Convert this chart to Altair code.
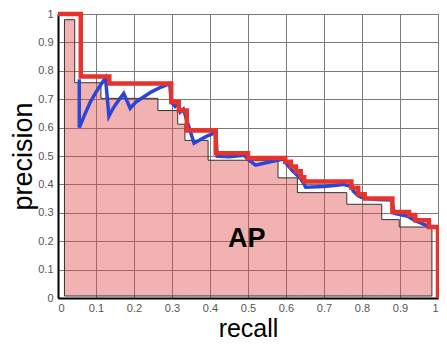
import altair as alt
import pandas as pd

# Black-outlined AP area: step start recall and precision
ap_recall = [0.017, 0.044, 0.113, 0.263, 0.315, 0.334, 0.395, 0.579, 0.630, 0.760, 0.852, 0.898, 0.984]
ap_precision = [0.98, 0.758, 0.703, 0.66, 0.612, 0.555, 0.485, 0.423, 0.371, 0.33, 0.276, 0.25, 0.25]

# Interpolated precision (red step curve)
interp_recall = [0.0, 0.06, 0.135, 0.298, 0.318, 0.339, 0.415, 0.5, 0.598, 0.613, 0.626, 0.639, 0.648,
                 0.772, 0.79, 0.807, 0.88, 0.924, 0.94, 0.976, 1.0, 1.0]
interp_precision = [1.0, 0.78, 0.755, 0.69, 0.66, 0.59, 0.51, 0.493, 0.48, 0.463, 0.446, 0.425, 0.41,
                    0.388, 0.365, 0.35, 0.303, 0.292, 0.274, 0.25, 0.25, 0.0]

# Raw precision (blue sawtooth curve)
raw_recall = [0.056, 0.056, 0.07, 0.085, 0.1, 0.113, 0.125, 0.134, 0.145, 0.16, 0.173, 0.19, 0.205,
              0.225, 0.246, 0.27, 0.294, 0.298, 0.308, 0.315, 0.322, 0.33, 0.338, 0.345, 0.358,
              0.375, 0.392, 0.406, 0.415, 0.419, 0.45, 0.49, 0.50, 0.52, 0.55, 0.596, 0.60, 0.617,
              0.639, 0.652, 0.70, 0.751, 0.772, 0.777, 0.79, 0.803, 0.84, 0.878, 0.885, 0.92, 0.94,
              0.976, 1.0]
raw_precision = [0.77, 0.60, 0.645, 0.69, 0.725, 0.752, 0.775, 0.64, 0.668, 0.697, 0.72, 0.668, 0.69,
                 0.708, 0.726, 0.742, 0.755, 0.69, 0.675, 0.685, 0.655, 0.665, 0.63, 0.60, 0.545,
                 0.558, 0.57, 0.578, 0.585, 0.50, 0.497, 0.503, 0.488, 0.468, 0.477, 0.49, 0.475, 0.448,
                 0.42, 0.39, 0.393, 0.40, 0.392, 0.377, 0.36, 0.352, 0.347, 0.345, 0.298, 0.288, 0.272,
                 0.252, 0.25]

tick_values = [0, 0.1, 0.2, 0.3, 0.4, 0.5, 0.6, 0.7, 0.8, 0.9, 1]
label_text = ["AP"]
label_recall = [0.497]
label_precision = [0.206]

ap_df = pd.DataFrame({"recall": ap_recall, "precision": ap_precision, "base": [0.007] * len(ap_recall)})
interp_df = pd.DataFrame({"recall": interp_recall, "precision": interp_precision,
                          "i": list(range(len(interp_recall)))})
raw_df = pd.DataFrame({"recall": raw_recall, "precision": raw_precision,
                       "i": list(range(len(raw_recall)))})
txt_df = pd.DataFrame({"recall": label_recall, "precision": label_precision, "t": label_text})

FONT = "Liberation Sans"

x_enc = alt.X(
    "recall:Q",
    scale=alt.Scale(domain=[0, 1], nice=False, zero=False),
    axis=alt.Axis(
        values=tick_values, format="~g", grid=True, gridColor="#7a7a7a", gridWidth=1,
        domainColor="black", domainWidth=2, ticks=False, tickSize=0,
        labelFont=FONT, labelFontSize=11, labelColor="#555555", labelPadding=4,
        title="recall", titleFont=FONT, titleFontSize=25, titleFontWeight="normal",
        titleColor="black", titleY=38, titleBaseline="alphabetic",
    ),
)
y_enc = alt.Y(
    "precision:Q",
    scale=alt.Scale(domain=[0, 1], nice=False, zero=False),
    axis=alt.Axis(
        values=tick_values, format="~g", grid=True, gridColor="#7a7a7a", gridWidth=1,
        domainColor="black", domainWidth=2, ticks=False, tickSize=0,
        labelFont=FONT, labelFontSize=11, labelColor="#555555", labelPadding=5,
        title="precision", titleFont=FONT, titleFontSize=27, titleFontWeight="normal",
        titleColor="black", titleX=-27, titleY=142, titleAngle=270,
        titleBaseline="alphabetic", titleAlign="center",
    ),
)

area = alt.Chart(ap_df).mark_area(
    interpolate="step-after", fill="#e04848", fillOpacity=0.42,
    stroke="#333333", strokeWidth=1,
).encode(x=x_enc, y=y_enc, y2="base:Q")

raw = alt.Chart(raw_df).mark_line(color="#2846d8", strokeWidth=3.5).encode(
    x=x_enc, y=y_enc, order="i:Q"
)

interp = alt.Chart(interp_df).mark_line(
    interpolate="step-after", color="#e8322c", strokeWidth=4.5
).encode(x=x_enc, y=y_enc, order="i:Q")

text = alt.Chart(txt_df).mark_text(
    font=FONT, fontSize=27, fontWeight="bold", color="black", baseline="middle", align="center"
).encode(x=x_enc, y=y_enc, text="t:N")

chart = alt.layer(area, raw, interp, text).properties(
    width=380, height=284,
    autosize=alt.AutoSizeParams(type="none"),
    padding={"left": 50, "top": 6, "right": 1, "bottom": 43},
).configure_view(stroke="#444444", strokeWidth=1)

chart.save("out.html", embed_options={"renderer": "svg", "actions": False})
